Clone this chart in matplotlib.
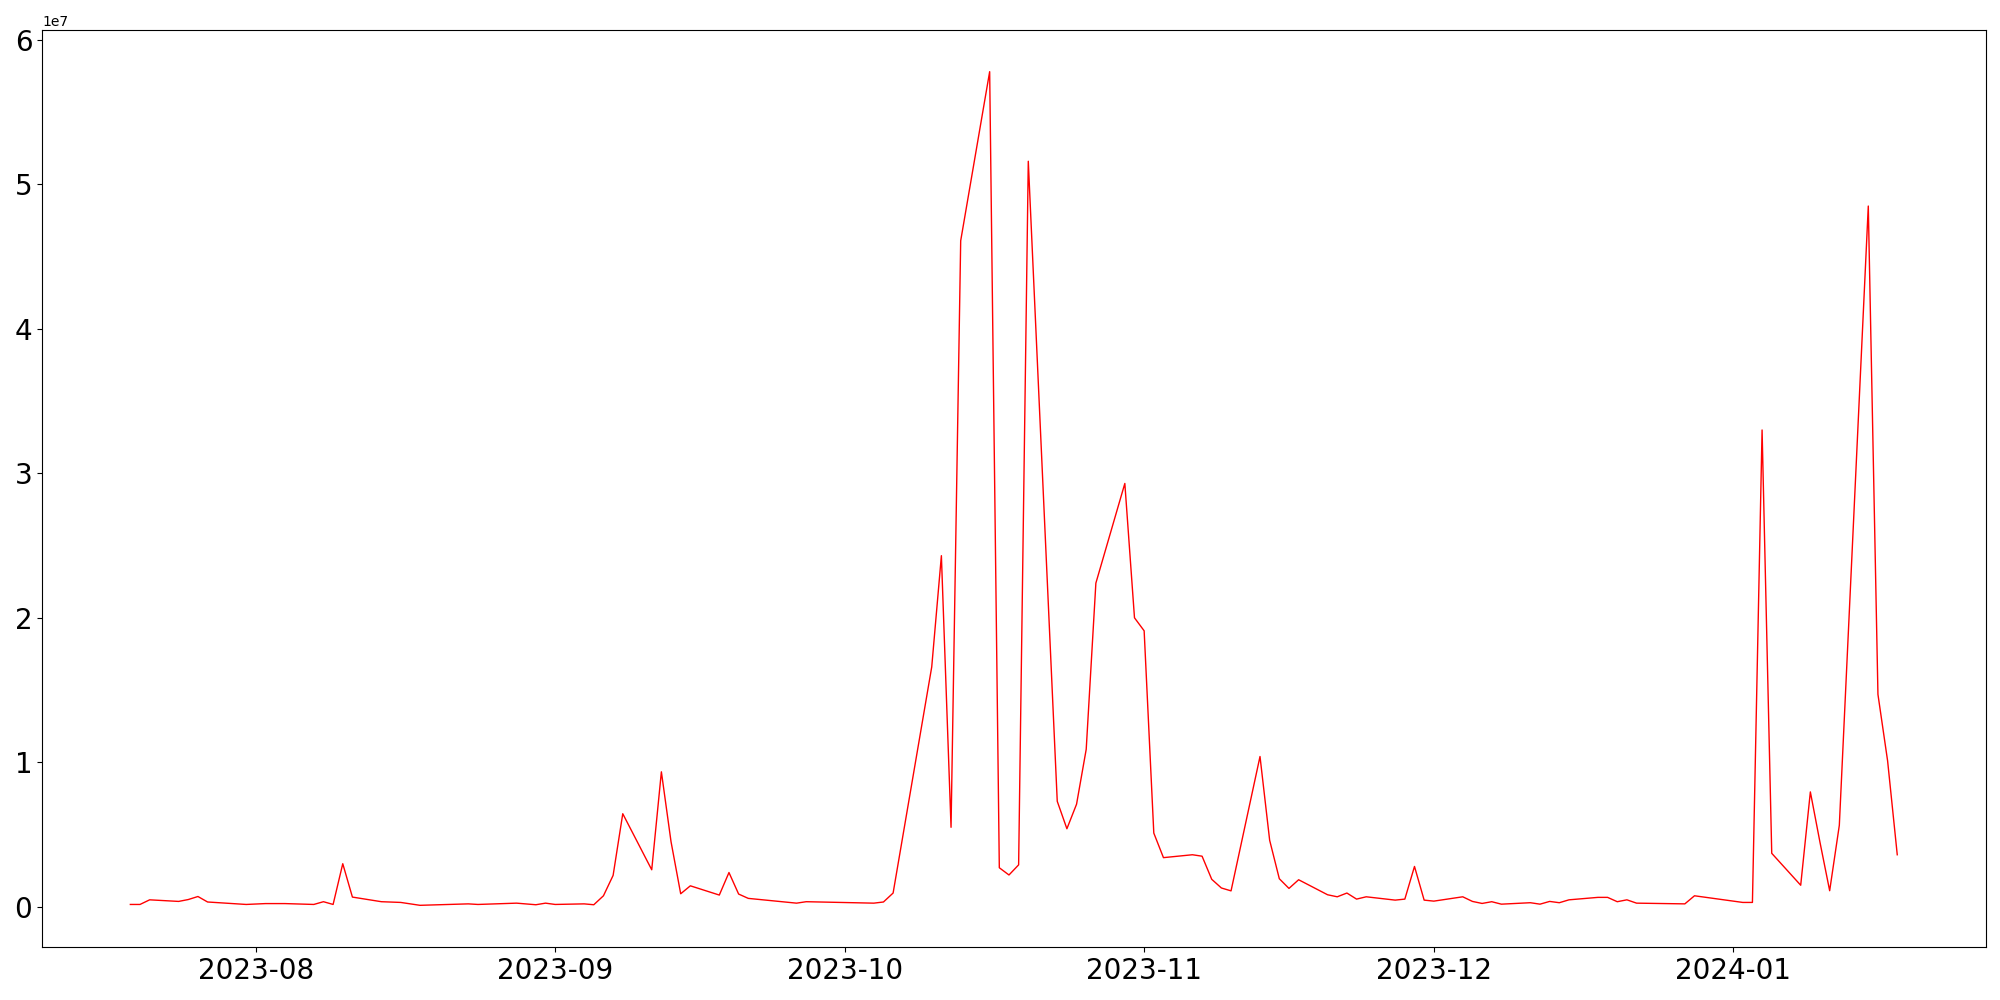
import pandas as pd
import matplotlib
matplotlib.use("Agg")
import matplotlib.pyplot as plt
import matplotlib.dates as mdates

# values
dates = [
    "2023-07-19", "2023-07-20", "2023-07-21", "2023-07-24", "2023-07-25", "2023-07-26",
    "2023-07-27", "2023-07-31", "2023-08-02", "2023-08-04", "2023-08-07", "2023-08-08",
    "2023-08-09", "2023-08-10", "2023-08-11", "2023-08-14", "2023-08-16", "2023-08-18",
    "2023-08-21", "2023-08-23", "2023-08-24", "2023-08-28", "2023-08-30", "2023-08-31",
    "2023-09-01", "2023-09-04", "2023-09-05", "2023-09-06", "2023-09-07", "2023-09-08",
    "2023-09-11", "2023-09-12", "2023-09-13", "2023-09-14", "2023-09-15", "2023-09-18",
    "2023-09-19", "2023-09-20", "2023-09-21", "2023-09-26", "2023-09-27", "2023-10-04",
    "2023-10-05", "2023-10-06", "2023-10-10", "2023-10-11", "2023-10-12", "2023-10-13",
    "2023-10-16", "2023-10-17", "2023-10-18", "2023-10-19", "2023-10-20", "2023-10-23",
    "2023-10-24", "2023-10-25", "2023-10-26", "2023-10-27", "2023-10-30", "2023-10-31",
    "2023-11-01", "2023-11-02", "2023-11-03", "2023-11-06", "2023-11-07", "2023-11-08",
    "2023-11-09", "2023-11-10", "2023-11-13", "2023-11-14", "2023-11-15", "2023-11-16",
    "2023-11-17", "2023-11-20", "2023-11-21", "2023-11-22", "2023-11-23", "2023-11-24",
    "2023-11-27", "2023-11-28", "2023-11-29", "2023-11-30", "2023-12-01", "2023-12-04",
    "2023-12-05", "2023-12-06", "2023-12-07", "2023-12-08", "2023-12-11", "2023-12-12",
    "2023-12-13", "2023-12-14", "2023-12-15", "2023-12-18", "2023-12-19", "2023-12-20",
    "2023-12-21", "2023-12-22", "2023-12-27", "2023-12-28", "2024-01-02", "2024-01-03",
    "2024-01-04", "2024-01-05", "2024-01-08", "2024-01-09", "2024-01-10", "2024-01-11",
    "2024-01-12", "2024-01-15", "2024-01-16", "2024-01-17", "2024-01-18",
]

# in millions
values_m = [
    0.16, 0.16, 0.48, 0.37, 0.50, 0.71,
    0.33, 0.16, 0.22, 0.22, 0.16, 0.35,
    0.16, 2.98, 0.67, 0.35, 0.30, 0.10,
    0.16, 0.20, 0.16, 0.25, 0.14, 0.25,
    0.16, 0.20, 0.14, 0.76, 2.17, 6.44,
    2.56, 9.34, 4.50, 0.90, 1.45, 0.81,
    2.37, 0.88, 0.58, 0.25, 0.35, 0.25,
    0.33, 0.95, 16.6, 24.3, 5.5, 46.1,
    57.8, 2.7, 2.2, 2.9, 51.6, 7.3,
    5.4, 7.1, 10.9, 22.4, 29.3, 20.0,
    19.1, 5.1, 3.4, 3.6, 3.5, 1.9,
    1.3, 1.1, 10.4, 4.6, 1.94, 1.27,
    1.87, 0.83, 0.69, 0.95, 0.53, 0.69,
    0.46, 0.53, 2.79, 0.46, 0.39, 0.69,
    0.37, 0.23, 0.35, 0.18, 0.28, 0.18,
    0.37, 0.28, 0.48, 0.65, 0.65, 0.35,
    0.48, 0.25, 0.20, 0.76, 0.30, 0.30,
    33.0, 3.7, 1.49, 7.95, 4.45, 1.11,
    5.64, 48.5, 14.7, 10.1, 3.6,
]

df = pd.DataFrame({"date": pd.to_datetime(dates), "value": [v * 1e6 for v in values_m]})

fig, ax = plt.subplots(figsize=(20, 10), dpi=100)
ax.plot(df["date"], df["value"], color="red", linewidth=1)

ax.xaxis.set_major_locator(mdates.MonthLocator())
ax.xaxis.set_major_formatter(mdates.DateFormatter("%Y-%m"))
ax.tick_params(axis="both", labelsize=20)

plt.subplots_adjust(left=0.021, right=0.9928, top=0.97, bottom=0.053)
plt.savefig("out.png")
